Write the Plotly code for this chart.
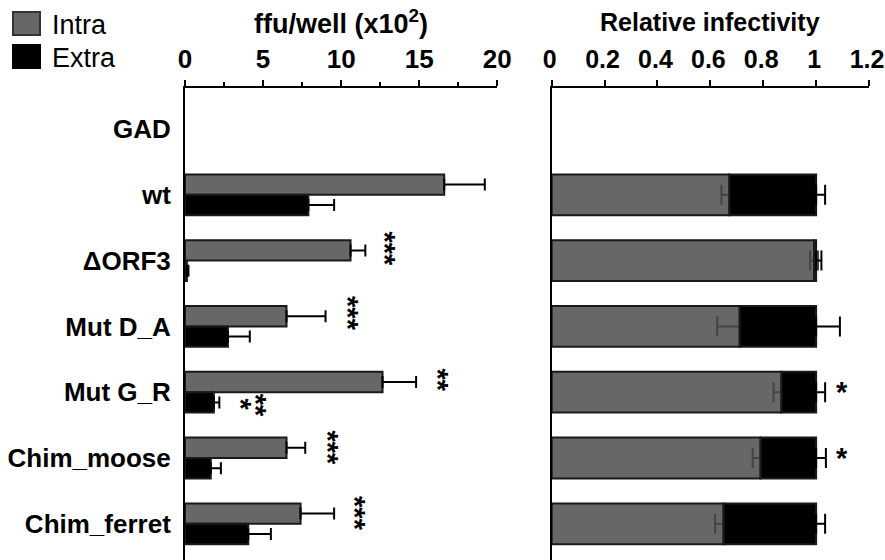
import plotly.graph_objects as go

categories = ["GAD", "wt", "ΔORF3", "Mut D_A", "Mut G_R", "Chim_moose", "Chim_ferret"]

ffu_intra = [None, 16.6, 10.6, 6.5, 12.65, 6.5, 7.4]
ffu_intra_err = [None, 2.6, 0.95, 2.5, 2.15, 1.2, 2.15]
ffu_extra = [None, 7.9, 0.12, 2.75, 1.85, 1.65, 4.05]
ffu_extra_err = [None, 1.65, 0.1, 1.4, 0.35, 0.65, 1.45]

rel_intra = [None, 0.672, 0.992, 0.711, 0.869, 0.79, 0.65]
rel_intra_err = [None, 0.03, 0.015, 0.085, 0.03, 0.03, 0.032]
rel_extra = [None, 0.328, 0.008, 0.289, 0.131, 0.21, 0.35]
rel_extra_err = [None, 0.034, 0.02, 0.09, 0.034, 0.037, 0.034]

ffu_ticks = [0, 5, 10, 15, 20]
rel_ticks = [0, 0.2, 0.4, 0.6, 0.8, 1, 1.2]
rel_ticktext = ["0", "0.2", "0.4", "0.6", "0.8", "1", "1.2"]

# significance marks: (category index, x value, offset within category, text)
stars_left = [
    (2, 12.8, -0.17, "***"),
    (3, 10.45, -0.2, "***"),
    (4, 16.2, -0.18, "**"),
    (4, 4.55, 0.19, "**"),
    (4, 3.6, 0.19, "*"),
    (5, 9.1, -0.16, "***"),
    (6, 10.9, -0.16, "***"),
]
stars_right = [
    (4, 1.097, 0.0, "*"),
    (5, 1.097, 0.0, "*"),
]

GREY = "#676767"
EDGE = "#1a1a1a"
FONT = "Liberation Sans, Arial, sans-serif"

W, H = 885, 560
TOP = 88
PH = H - TOP

fig = go.Figure()

fig.add_trace(go.Bar(
    y=categories, x=ffu_intra, orientation="h", name="Intra",
    marker=dict(color=GREY, line=dict(color=EDGE, width=2)),
    error_x=dict(type="data", array=ffu_intra_err, arrayminus=[0] * 7, symmetric=False,
                 color="black", thickness=2, width=6),
    xaxis="x", yaxis="y", showlegend=False,
))
fig.add_trace(go.Bar(
    y=categories, x=ffu_extra, orientation="h", name="Extra",
    marker=dict(color="black", line=dict(color=EDGE, width=2)),
    error_x=dict(type="data", array=ffu_extra_err, arrayminus=[0] * 7, symmetric=False,
                 color="black", thickness=2, width=6),
    xaxis="x", yaxis="y", showlegend=False,
))
fig.add_trace(go.Bar(
    y=categories, x=rel_intra, orientation="h", name="Intra",
    marker=dict(color=GREY, line=dict(color=EDGE, width=2)),
    error_x=dict(type="data", array=rel_intra_err, color="#444444", thickness=2, width=10),
    xaxis="x2", yaxis="y2", offsetgroup="r", showlegend=False,
))
fig.add_trace(go.Bar(
    y=categories, x=rel_extra, base=rel_intra, orientation="h", name="Extra",
    marker=dict(color="black", line=dict(color=EDGE, width=2)),
    error_x=dict(type="data", array=rel_extra_err, arrayminus=[0] * 7, symmetric=False,
                 color="black", thickness=2, width=10),
    xaxis="x2", yaxis="y2", offsetgroup="r", showlegend=False,
))

yrange = [6.55, -0.623]
tickfont = dict(family=FONT, size=26, color="black", weight="bold")

fig.update_layout(
    width=W, height=H,
    margin=dict(l=0, r=0, t=TOP, b=0),
    paper_bgcolor="white", plot_bgcolor="white",
    barmode="group", bargap=0.38, bargroupgap=0,
    font=dict(family=FONT, color="black"),
    xaxis=dict(domain=[185 / W, 497.3 / W], range=[0, 20], side="top", anchor="y",
               tickvals=ffu_ticks, showgrid=False, zeroline=False,
               showline=True, linecolor="black", linewidth=2,
               ticks="outside", ticklen=6, tickwidth=2, tickcolor="black",
               minor=dict(dtick=2.5, tick0=0, ticks="outside", ticklen=4, tickwidth=1.5,
                          tickcolor="black", showgrid=False),
               tickfont=tickfont, ticklabelstandoff=2, ticklabeloverflow="allow",
               automargin=False),
    yaxis=dict(domain=[0, 1], range=yrange, type="category", categoryarray=categories,
               anchor="x", showgrid=False, zeroline=False, showline=True,
               linecolor="black", linewidth=2, ticks="", ticklabelstandoff=7,
               tickfont=dict(family=FONT, size=26, color="black", weight="bold"),
               automargin=False),
    xaxis2=dict(domain=[551.7 / W, 869 / W], range=[0, 1.2], side="top", anchor="y2",
                tickvals=rel_ticks, ticktext=rel_ticktext,
                showgrid=False, zeroline=False,
                showline=True, linecolor="black", linewidth=2,
                ticks="outside", ticklen=6, tickwidth=2, tickcolor="black",
                tickfont=dict(family=FONT, size=25, color="black", weight="bold"),
                ticklabelstandoff=2, ticklabelshift=-2, ticklabeloverflow="allow",
                automargin=False),
    yaxis2=dict(domain=[0, 1], range=yrange, type="category", categoryarray=categories,
                anchor="x2", showgrid=False, zeroline=False, showline=True,
                linecolor="black", linewidth=2, ticks="", showticklabels=False,
                automargin=False),
)

def py(p):
    return 1 + (TOP - p) / PH

annotations = [
    dict(text="ffu/well (x10<sup>2</sup>)", xref="x domain", yref="paper", x=0.5, y=py(22),
         showarrow=False, font=dict(size=27, weight="bold", family=FONT), yanchor="middle"),
    dict(text="Relative infectivity", xref="x2 domain", yref="paper", x=0.5, y=py(22),
         showarrow=False, font=dict(size=25, weight="bold", family=FONT), yanchor="middle"),
    dict(text="Intra", xref="paper", yref="paper", x=50 / W, y=py(25), xanchor="left",
         yanchor="middle", showarrow=False, font=dict(size=27, family=FONT)),
    dict(text="Extra", xref="paper", yref="paper", x=50 / W, y=py(58), xanchor="left",
         yanchor="middle", showarrow=False, font=dict(size=27, family=FONT)),
]
for ci, xv, off, txt in stars_left:
    annotations.append(dict(text=txt, x=xv, y=ci + off, xref="x", yref="y", showarrow=False,
                            textangle=90, font=dict(size=29, weight="bold", family=FONT)))
for ci, xv, off, txt in stars_right:
    annotations.append(dict(text=txt, x=xv, y=ci + off, xref="x2", yref="y2", showarrow=False,
                            font=dict(size=29, weight="bold", family=FONT)))
fig.update_layout(annotations=annotations)

fig.update_layout(shapes=[
    dict(type="rect", xref="paper", yref="paper", x0=13 / W, x1=40 / W, y0=py(35), y1=py(12),
         fillcolor=GREY, line=dict(color="#333333", width=2)),
    dict(type="rect", xref="paper", yref="paper", x0=13 / W, x1=40 / W, y0=py(68), y1=py(45),
         fillcolor="black", line=dict(color="black", width=2)),
])

fig.write_html("out.html", config={"displayModeBar": False},
               post_script="document.body.style.margin='0';")
